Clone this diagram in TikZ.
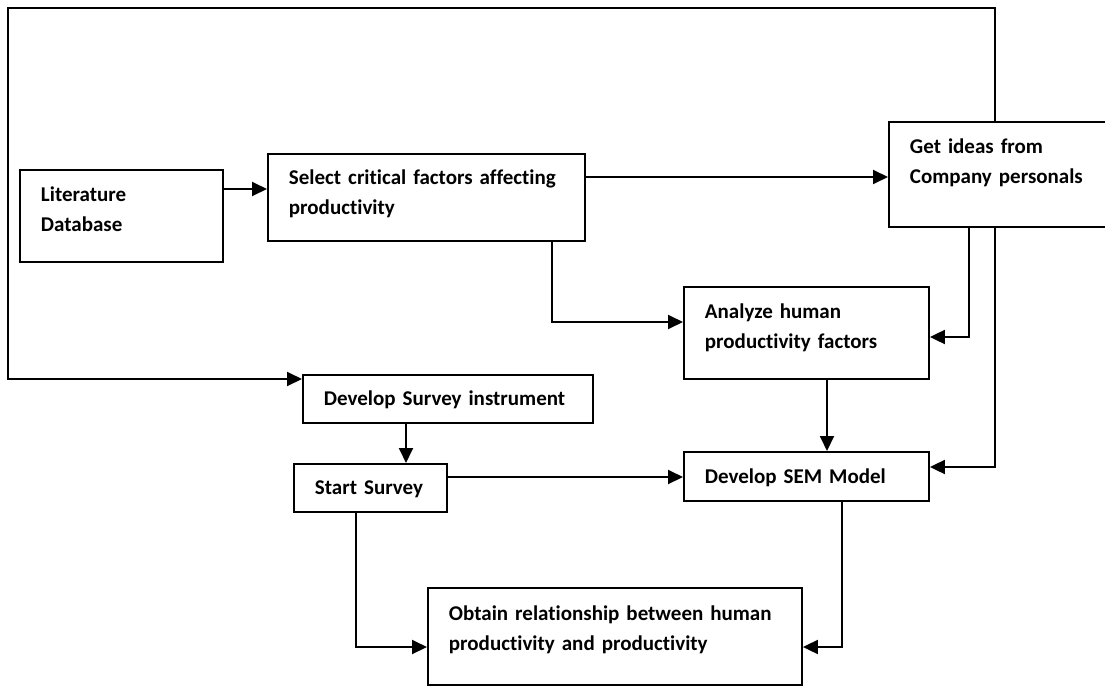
\documentclass[tikz,border=0pt]{standalone}
\usepackage{fontspec}
\setmainfont{Carlito}[Ligatures=NoCommon]
\usetikzlibrary{arrows.meta}

\tikzset{
  box/.style={draw, line width=1.9pt, anchor=north west, align=left,
    inner xsep=21pt, inner ysep=0pt, text height=15pt,
    font=\fontsize{21}{30}\selectfont\bfseries},
  link/.style={line width=1.9pt},
  arr/.style={link, -{Triangle[length=15pt,width=14pt]}},
}

\begin{document}
\begin{tikzpicture}[x=1pt, y=-1pt]
\path[fill=white, use as bounding box] (0,0) rectangle (1105,685);

\node[box, text width=161pt, minimum height=92pt, text depth=43pt] (lit) at (19,169) {Literature\\Database};
\node[box, text width=275pt, minimum height=87pt, text depth=40pt] (sel) at (267,153) {Select critical factors affecting\\productivity};
\node[box, text width=188pt, minimum height=105pt, text depth=56pt] (ideas) at (888,121) {Get ideas from\\Company personals};
\node[box, text width=203pt, minimum height=92pt, text depth=43pt] (anal) at (683,286) {Analyze human\\productivity factors};
\node[box, text width=248pt, minimum height=48pt, text depth=1pt] (survey) at (302,374) {Develop Survey instrument};
\node[box, text width=111pt, minimum height=48pt, text depth=1pt] (start) at (293,463) {Start Survey};
\node[box, text width=203pt, minimum height=49pt, text depth=1pt] (sem) at (683,451) {Develop SEM Model};
\node[box, text width=332pt, minimum height=97pt, text depth=46pt] (obt) at (427,587) {Obtain relationship between human\\productivity and productivity};

%%%%%%%%%%%%%%%%%%%%%%%%%%%%%%%%%%%%%%%%

\coordinate (topright) at (995,8);
\coordinate (topleft) at (8,8);

\draw[arr] (lit.east |- 0,189) -- (sel.west |- 0,189);
\draw[arr] (sel.east |- 0,177) -- (ideas.west |- 0,177);
\draw[arr] (sel.south -| 552,0) |- (anal.west |- 0,322);
\draw[arr] (ideas.south -| 969,0) |- (anal.east |- 0,337);
\draw[arr] (ideas.north -| topright) -- (topright) -- (topleft)
  |- (survey.west |- 0,379);
\draw[arr] (ideas.south -| topright) |- (sem.east |- 0,467);
\draw[arr] (anal.south -| 827,0) -- (sem.north -| 827,0);
\draw[arr] (survey.south -| 406,0) -- (start.north -| 406,0);
\draw[arr] (start.east |- 0,477) -- (sem.west |- 0,477);
\draw[arr] (start.south -| 356,0) |- (obt.west |- 0,647);
\draw[arr] (sem.south -| 842,0) |- (obt.east |- 0,647);

\end{tikzpicture}
\end{document}
